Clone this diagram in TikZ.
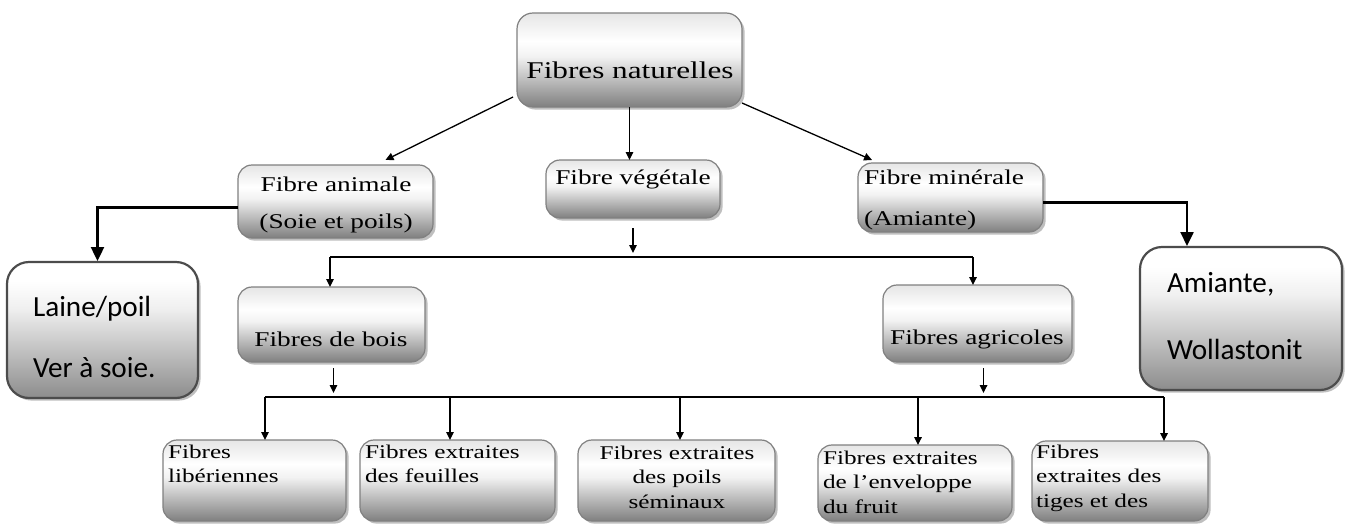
\documentclass[tikz,border=0pt]{standalone}
\usepackage{fontspec}
\setmainfont{Liberation Serif}[FakeStretch=1.3]
\newfontfamily\calib{Carlito}
\usetikzlibrary{arrows.meta,shadows}
\pgfdeclareverticalshading{boxshade}{100bp}{color(0bp)=(black!50); color(25bp)=(black!50); color(52bp)=(black!5); color(60bp)=(white); color(75bp)=(black!10); color(100bp)=(black!10)}
\pgfdeclareverticalshading{bigshade}{100bp}{color(0bp)=(black!45); color(25bp)=(black!45); color(58bp)=(black!6); color(68bp)=(white); color(75bp)=(white); color(100bp)=(white)}
\newcommand\mybox[6]{%
  \pgfmathsetmacro\bxcx{(#2+#4)/2}\pgfmathsetmacro\bxcy{(#3+#5)/2}%
  \pgfmathsetmacro\bxw{(#4-#2)/2}\pgfmathsetmacro\bxh{(#5-#3)/2}%
  \node[#6, minimum width=\bxw pt, minimum height=\bxh pt] (#1) at (\bxcx,\bxcy) {};}
\tikzset{
  box/.style={draw=black!50, line width=0.6pt, rounded corners=7pt, shading=boxshade,
    drop shadow={shadow xshift=1.3pt, shadow yshift=-1.3pt, fill=black, opacity=0.25}, inner sep=0pt, outer sep=0pt},
  bigbox/.style={box, shading=bigshade, draw=black!70, line width=1.1pt, rounded corners=11pt},
  txt/.style={inner sep=0pt, outer sep=0pt, text=black},
  arr/.style={line width=0.65pt, -{Triangle[length=4pt,width=3.8pt]}},
  lin/.style={line width=0.65pt},
  bigarr/.style={line width=1.2pt, -{Triangle[length=7pt,width=6.5pt]}},
}
\begin{document}
\begin{tikzpicture}[x=0.5pt,y=-0.5pt]
\useasboundingbox (0,0) rectangle (1348,525);
% boxes
\mybox{fn}{517}{13}{742}{107}{box, rounded corners=8pt}
\mybox{fa}{238}{165}{433}{238}{box}
\mybox{fv}{546}{160}{720}{218}{box}
\mybox{fm}{858}{163}{1043}{232}{box}
\mybox{am}{1140}{247}{1342}{390}{bigbox}
\mybox{la}{7}{262}{198}{398}{bigbox}
\mybox{fb}{238}{287}{425}{362}{box}
\mybox{fag}{883}{285}{1072}{362}{box}
\mybox{b1}{163}{440}{346}{521}{box}
\mybox{b2}{360}{440}{555}{521}{box}
\mybox{b3}{578}{440}{775}{521}{box}
\mybox{b4}{818}{445}{1012}{521}{box}
\mybox{b5}{1032}{441}{1208}{521}{box}
% texts
\node[txt, font=\fontsize{12}{14}\selectfont, anchor=mid] (tfn) at (630,74) {Fibres naturelles};
\node[txt, font=\fontsize{10.5}{18.5}\selectfont, align=center, anchor=north] (tfa) at (336,177) {Fibre animale\\(Soie et poils)};
\node[txt, font=\fontsize{10.5}{18.5}\selectfont, anchor=north] (tfv) at (633,170) {Fibre végétale};
\node[txt, font=\fontsize{10.5}{20.5}\selectfont, align=left, anchor=north west] (tfm) at (864,170) {Fibre minérale\\(Amiante)};
\node[txt, font=\fontsize{10.5}{14}\selectfont, anchor=mid] (tfb) at (331,342) {Fibres de bois};
\node[txt, font=\fontsize{10.5}{14}\selectfont, anchor=mid] (tfag) at (977,340) {Fibres agricoles};
\node[txt, font=\calib\fontsize{14.6}{30.5}\selectfont, align=left, anchor=north west] (tla) at (33,296) {Laine/poil\\Ver à soie.};
\node[txt, font=\calib\fontsize{14.6}{33.5}\selectfont, align=left, anchor=north west] (tam) at (1167,272) {Amiante,\\Wollastonit};
\node[txt, font=\fontsize{9.7}{12.25}\selectfont, align=left, anchor=north west] (tb1) at (168,445) {Fibres\\libériennes};
\node[txt, font=\fontsize{9.7}{12.25}\selectfont, align=left, anchor=north west] (tb2) at (365,445) {Fibres extraites\\des feuilles};
\node[txt, font=\fontsize{9.7}{12.25}\selectfont, align=center, anchor=north] (tb3) at (677,446) {Fibres extraites\\des poils\\séminaux};
\node[txt, font=\fontsize{9.7}{12.25}\selectfont, align=left, anchor=north west] (tb4) at (823,451) {Fibres extraites\\de l'enveloppe\\du fruit};
\node[txt, font=\fontsize{9.7}{12.25}\selectfont, align=left, anchor=north west] (tb5) at (1036,445) {Fibres\\extraites des\\tiges et des};
% coordinates
\coordinate (vb) at (633,257);
\coordinate (vl) at (330,257);
\coordinate (vr) at (973,257);
\coordinate (wl) at (265,397);
\coordinate (w2) at (450,397);
\coordinate (w3) at (680,397);
\coordinate (w4) at (918,397);
\coordinate (wr) at (1164,397);
% connectors
\draw[arr] ([shift={(-4,-10)}]fn.south west) -- ([shift={(50,-5)}]fa.north);
\draw[arr] (fn.south) -- (fn.south |- fv.north);
\draw[arr] ([shift={(0,-4)}]fn.south east) -- ([shift={(14,-3)}]fm.north west);
\draw[bigarr] ([shift={(0,6)}]fa.west) -| ([shift={(-5,-1)}]la.north);
\draw[bigarr] ([shift={(0,5)}]fm.east) -| ([shift={(-54,-1)}]am.north);
\draw[arr] ([shift={(0,10)}]fv.south) -- ([shift={(0,-4)}]vb);
\draw[lin] (vl) -- (vr);
\draw[arr] (vl) -- (vl |- fb.north);
\draw[arr] (vr) -- (vr |- fag.north);
\draw[arr] ([shift={(2,6)}]fb.south) -- ([shift={(2,-4)}]fb.south |- wl);
\draw[arr] ([shift={(6,6)}]fag.south) -- ([shift={(6,-4)}]fag.south |- wl);
\draw[lin] (wl) -- (wr);
\draw[arr] (wl) -- (wl |- b1.north);
\draw[arr] (w2) -- (w2 |- b2.north);
\draw[arr] (w3) -- (w3 |- b3.north);
\draw[arr] (w4) -- (w4 |- b4.north);
\draw[arr] (wr) -- (wr |- b5.north);
\end{tikzpicture}
\end{document}
